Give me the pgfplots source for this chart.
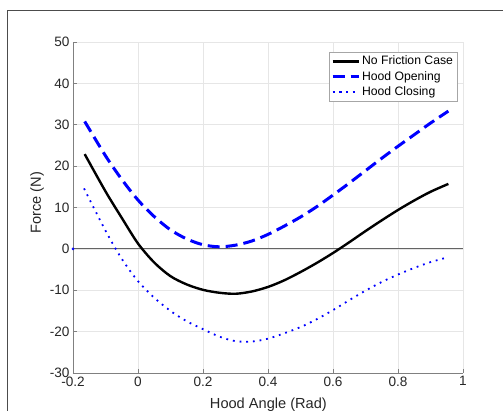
\documentclass[border=0pt]{standalone}
\usepackage{fontspec}
\setmainfont{Liberation Sans}
\usepackage{pgfplots}
\pgfplotsset{compat=1.18}

\definecolor{axgray}{RGB}{128,128,128}
\definecolor{txt}{RGB}{38,38,38}
\definecolor{gridc}{RGB}{230,230,230}
\definecolor{zerol}{RGB}{100,100,100}

\begin{document}
\begin{tikzpicture}
\begin{axis}[
    at={(0,0)}, anchor=south west,
    scale only axis,
    width=390pt, height=331pt,
    xmin=-0.2, xmax=1, ymin=-30, ymax=50,
    xtick={-0.2,0,0.2,0.4,0.6,0.8,1},
    ytick={-30,-20,-10,0,10,20,30,40,50},
    xticklabels={-0.2,0,0.2,0.4,0.6,0.8,1},
    yticklabels={-30,-20,-10,0,10,20,30,40,50},
    axis x line*=bottom, axis y line*=left,
    axis line style={draw=axgray, line width=0.8pt, -},
    tick style={draw=axgray, line width=0.8pt},
    tick align=inside, major tick length=4pt,
    grid=major, grid style={draw=gridc, line width=0.6pt},
    ticklabel style={font=\fontsize{13.6}{16}\selectfont, text=txt},
    clip=false,
    xlabel={Hood Angle (Rad)},
    ylabel={Force (N)},
    xlabel style={font=\fontsize{14.6}{17}\selectfont, text=txt,
        at={(axis description cs:0.501,0)}, anchor=north, inner sep=0pt, yshift=-25pt},
    ylabel style={font=\fontsize{14.6}{17}\selectfont, text=txt,
        at={(axis description cs:-0.092,0.515)}, anchor=center},
    legend style={at={(axis description cs:0.985,0.970)}, anchor=north east,
        draw=gray!70, fill=white, font=\fontsize{12.2}{14}\selectfont,
        inner sep=2pt, row sep=1pt, text=black},
    legend cell align=left,
    legend image code/.code={\draw[#1] plot coordinates {(0pt,0pt)(26pt,0pt)};},
]
\addplot[zerol, line width=0.8pt, forget plot] coordinates {(-0.2,0) (1,0)};
\addplot[black, line width=2.4pt, smooth] coordinates {
(-0.164,22.9) (-0.1,13.9) (-0.05,7.5) (0,1.3) (0.05,-3.3) (0.1,-6.6) (0.15,-8.6)
(0.2,-9.9) (0.25,-10.6) (0.3,-10.85) (0.35,-10.3) (0.4,-9.2)
(0.45,-7.6) (0.5,-5.6) (0.55,-3.4) (0.6,-1.0) (0.65,1.6) (0.7,4.3) (0.75,6.9)
(0.8,9.4) (0.85,11.7) (0.9,13.8) (0.955,15.7)
};
\addlegendentry{No Friction Case}
\addplot[blue, line width=3pt, dash pattern=on 12pt off 6pt, smooth] coordinates {
(-0.164,30.8) (-0.1,22.5) (-0.05,16.8) (0,11.8) (0.05,7.8) (0.1,4.6) (0.15,2.4)
(0.2,1.0) (0.25,0.5) (0.3,0.9) (0.35,1.9) (0.4,3.5) (0.45,5.5) (0.5,7.7)
(0.55,10.2) (0.6,13.0) (0.65,15.9) (0.7,18.9) (0.75,21.9) (0.8,24.8)
(0.85,27.6) (0.9,30.4) (0.955,33.3)
};
\addlegendentry{Hood Opening}
\addplot[blue, line width=1.8pt, dash pattern=on 1.8pt off 4.9pt, smooth] coordinates {
(-0.166,14.6) (-0.1,4.4) (-0.05,-2.4) (0,-7.8) (0.05,-11.8) (0.1,-15.0)
(0.15,-17.5) (0.2,-19.4) (0.25,-21.2) (0.3,-22.3) (0.35,-22.4) (0.4,-21.7)
(0.45,-20.4) (0.5,-18.9) (0.55,-17.0) (0.6,-14.8) (0.65,-12.4) (0.7,-10.1)
(0.75,-8.0) (0.8,-6.2) (0.85,-4.6) (0.9,-3.2) (0.955,-2.0)
};
\addlegendentry{Hood Closing}
\addplot[blue, only marks, mark=*, mark size=1.1pt, forget plot] coordinates {(-0.2,0)};
\end{axis}
\draw[gray!60!black, line width=1pt]
  ([shift={(-65pt,-45pt)}]current axis.south west) --
  ([shift={(-65pt,362pt)}]current axis.south west) --
  ([shift={(445pt,362pt)}]current axis.south west);
\pgfresetboundingbox
\path[use as bounding box] ([shift={(-73pt,-37pt)}]current axis.south west)
  rectangle ([shift={(430pt,373pt)}]current axis.south west);
\end{tikzpicture}
\end{document}
